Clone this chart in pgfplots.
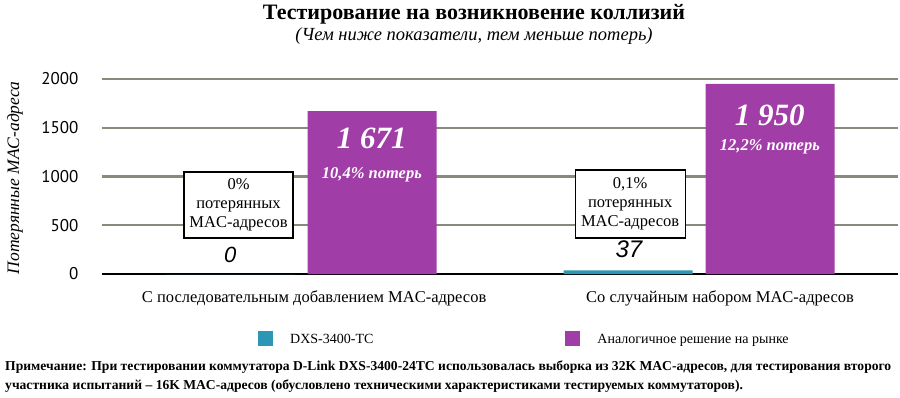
\documentclass[border=0pt]{standalone}
\usepackage{fontspec}
\setmainfont{Liberation Serif}
\newfontfamily\tickfont{PT Sans}
\newfontfamily\arialfont{Liberation Sans}
\usepackage{pgfplots}
\pgfplotsset{compat=1.18}
\definecolor{cyanbar}{HTML}{2B97B4}
\definecolor{purplebar}{HTML}{A03DA6}
\definecolor{gridc}{HTML}{8B897C}
\begin{document}
\begin{tikzpicture}[x=1pt,y=1pt]
\path[use as bounding box] (0,0) rectangle (900,397);
\begin{axis}[
  at={(102pt,123pt)}, anchor=south west,
  scale only axis, width=796pt, height=195pt,
  xmin=0.5, xmax=2.5, ymin=0, ymax=2000,
  ybar, bar width=129pt,
  axis lines=left, axis line style={-},
  y axis line style={draw=none},
  x axis line style={black, line width=1.3pt},
  xtick=\empty,
  ytick={0,500,1000,1500,2000},
  ymajorgrids, major grid style={gridc, line width=2.2pt},
  major tick length=0pt,
  /pgf/number format/assume math mode=true,
  /pgf/number format/1000 sep={},
  yticklabel style={font=\tickfont\fontsize{17}{17}\selectfont, xshift=-20pt},
  clip=false,
  legend image code/.code={\fill[#1] (0pt,-7pt) rectangle (15pt,8pt);},
  legend style={draw=none, fill=none, inner sep=0pt, legend columns=2,
    at={(0.196,-0.333)}, anchor=west,
    font=\fontsize{14}{16}\selectfont,
    /tikz/every even column/.append style={column sep=190pt},
    /tikz/every odd column/.append style={column sep=15pt}},
  legend cell align=left,
]
\addplot[fill=cyanbar, draw=none, bar shift=-71pt] coordinates {(1,0) (2,37)};
\addplot[fill=purplebar, draw=none, bar shift=71pt] coordinates {(1,1671) (2,1950)};
\legend{DXS-3400-TC, Аналогичное решение на рынке}
% bar labels
\node[text=white, font=\bfseries\itshape\fontsize{31}{31}\selectfont] at (axis cs:1.178,1395) {1 671};
\node[text=white, font=\bfseries\itshape\fontsize{16.5}{16.5}\selectfont] at (axis cs:1.178,1015) {10,4\% потерь};
\node[text=white, font=\bfseries\itshape\fontsize{31}{31}\selectfont] at (axis cs:2.178,1631) {1 950};
\node[text=white, font=\bfseries\itshape\fontsize{16.5}{16.5}\selectfont] at (axis cs:2.178,1303) {12,2\% потерь};
% boxes
\node[draw=black, line width=1.2pt, fill=white, align=center, inner sep=0pt,
  minimum width=109pt, minimum height=66pt, font=\fontsize{16.5}{19}\selectfont]
  at (axis cs:0.843,708) {0\%\\потерянных\\MAC-адресов};
\node[draw=black, line width=1.2pt, fill=white, align=center, inner sep=0pt,
  minimum width=110pt, minimum height=68pt, font=\fontsize{16.5}{19}\selectfont]
  at (axis cs:1.827,718) {0,1\%\\потерянных\\MAC-адресов};
\node[font=\arialfont\itshape\fontsize{22}{22}\selectfont] at (axis cs:0.822,195) {0};
\node[font=\arialfont\itshape\fontsize{24}{24}\selectfont] at (axis cs:1.824,256) {37};
% category labels
\node[font=\fontsize{16.5}{16.5}\selectfont] at (axis cs:1.033,-246) {С последовательным добавлением MAC-адресов};
\node[font=\fontsize{16.5}{16.5}\selectfont] at (axis cs:2.053,-246) {Со случайным набором MAC-адресов};
\end{axis}
\node[font=\bfseries\fontsize{22}{22}\selectfont] at (474,383) {Тестирование на возникновение коллизий};
\node[font=\itshape\fontsize{18.5}{18.5}\selectfont] at (474,361) {(Чем ниже показатели, тем меньше потерь)};
\node[rotate=90, font=\itshape\fontsize{17.5}{17.5}\selectfont] at (15,219) {Потерянные MAC-адреса};
\node[anchor=base west, align=left, inner sep=0pt, font=\bfseries\fontsize{13.6}{19}\selectfont] at (5,8)
 {Примечание: При тестировании коммутатора D-Link DXS-3400-24TC использовалась выборка из 32K MAC-адресов, для тестирования второго\\
 участника испытаний -- 16K MAC-адресов (обусловлено техническими характеристиками тестируемых коммутаторов).};
\end{tikzpicture}
\end{document}
